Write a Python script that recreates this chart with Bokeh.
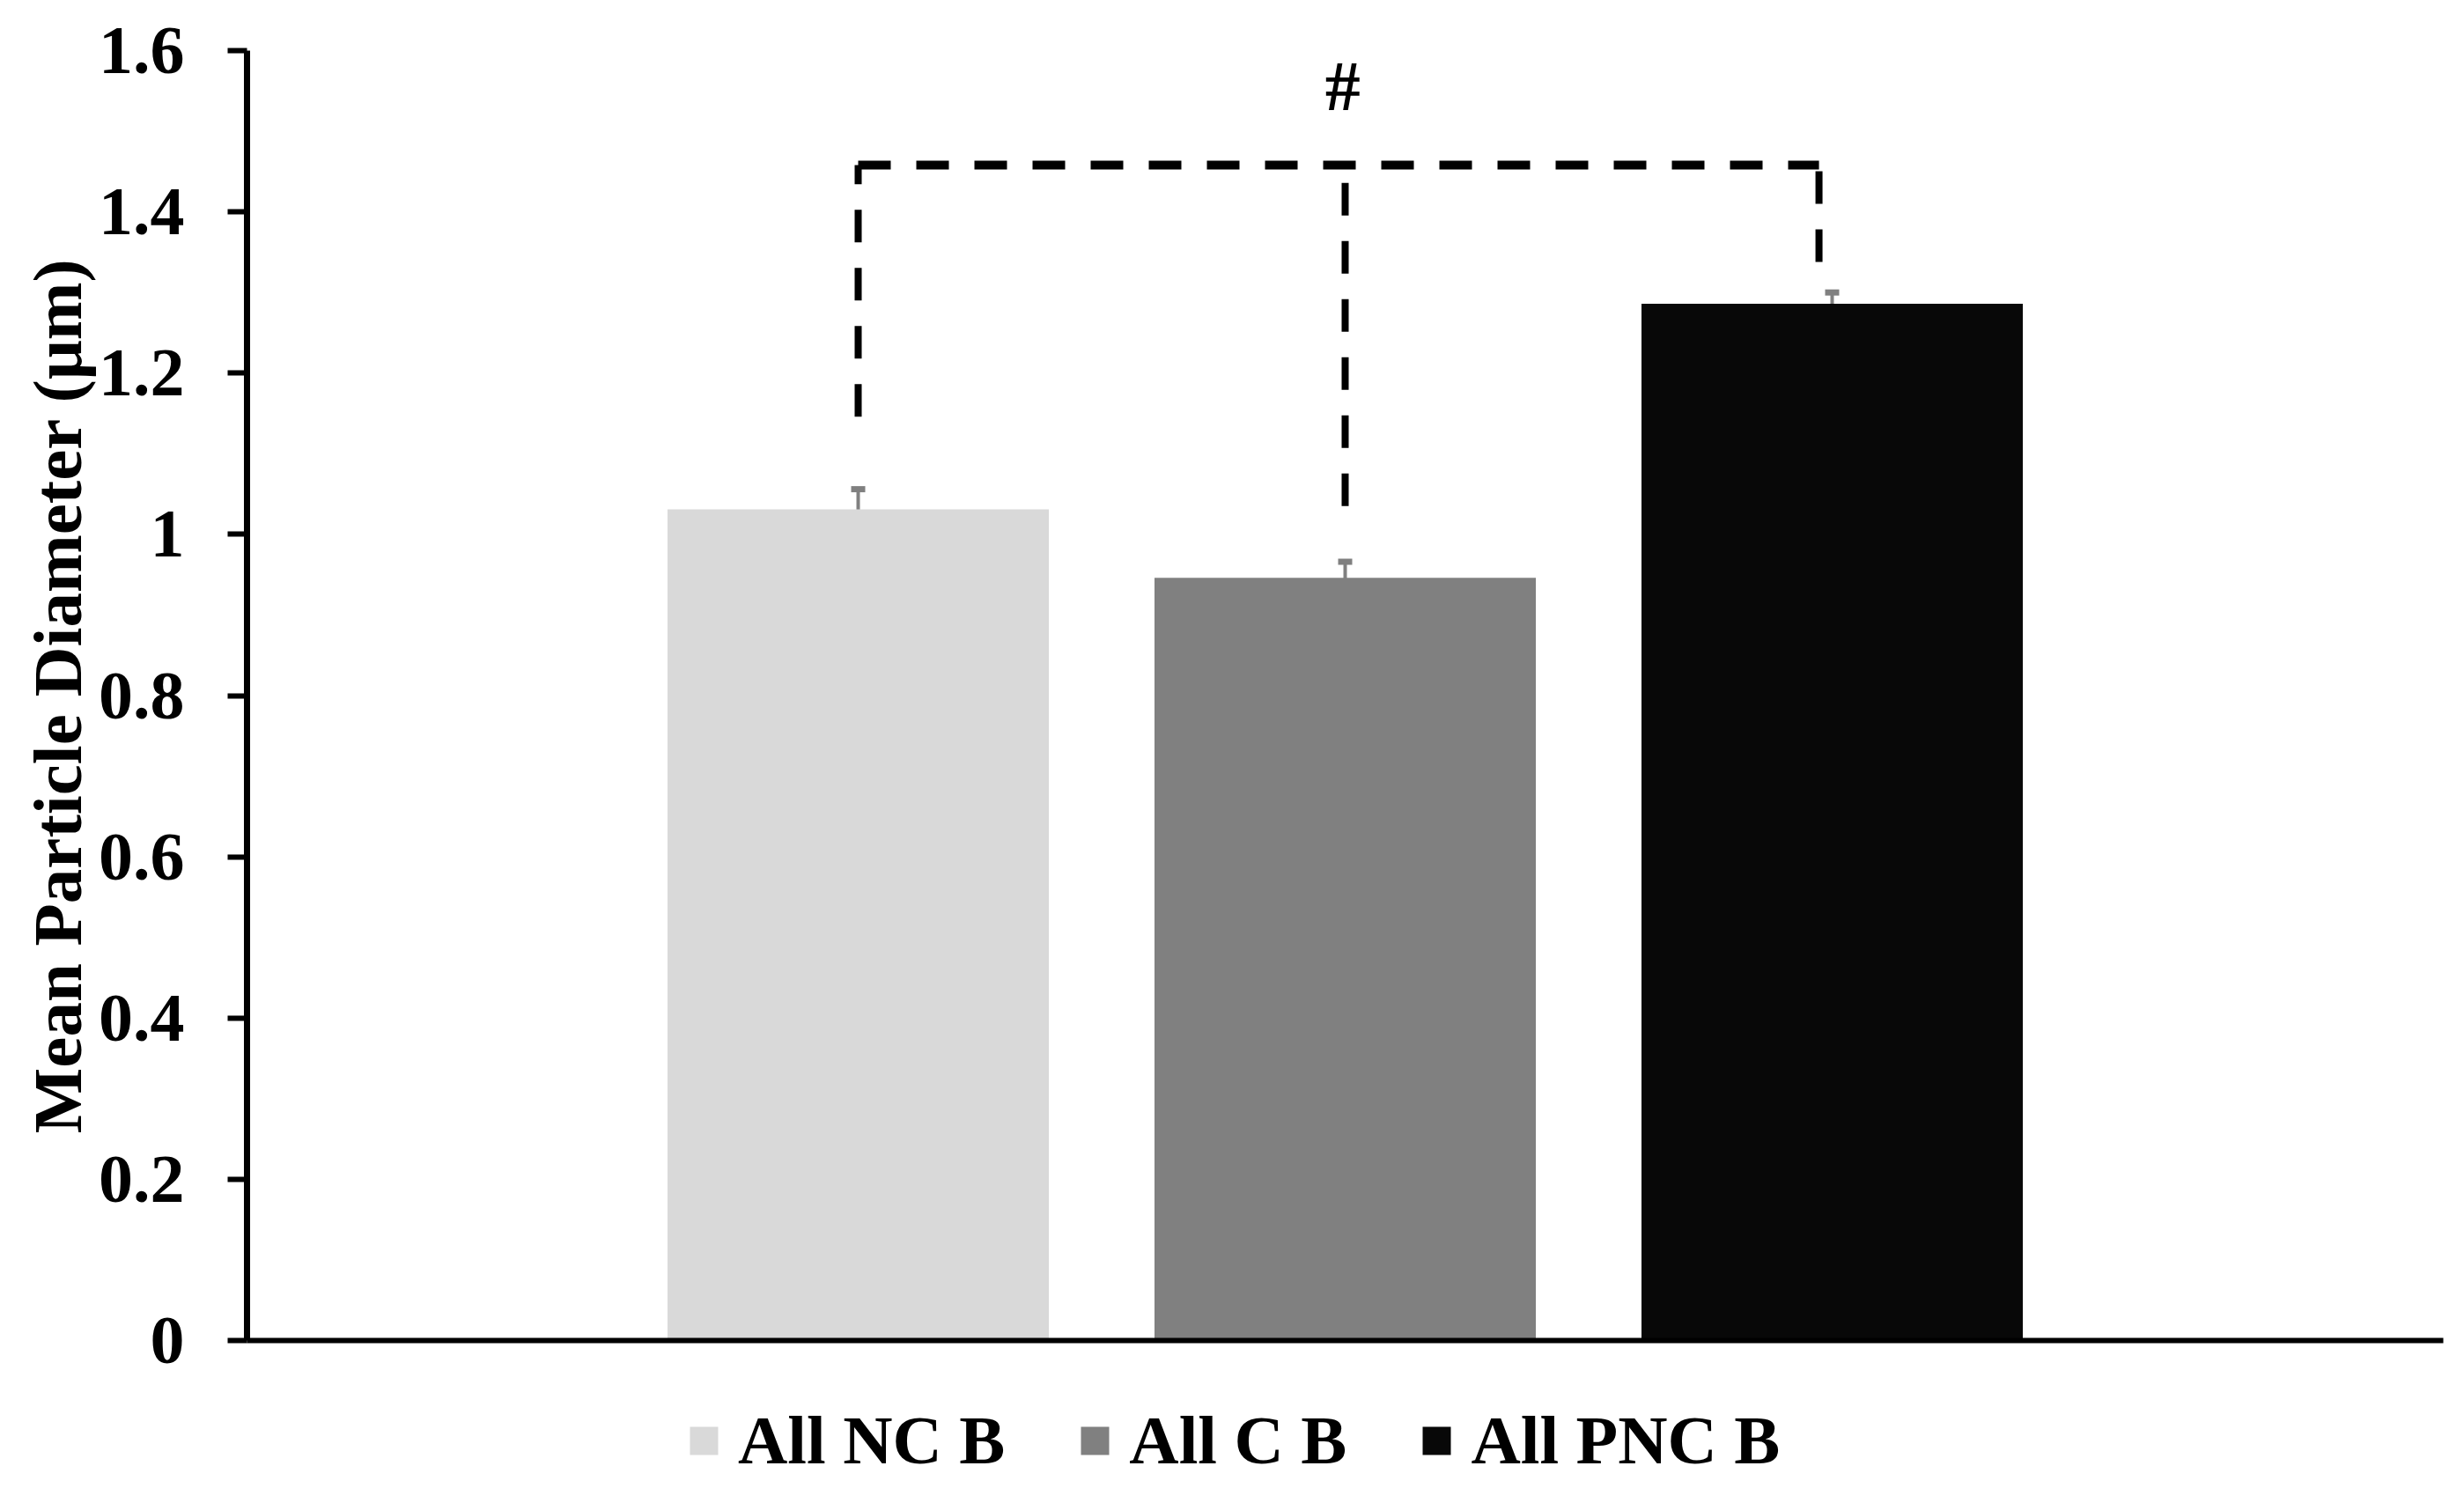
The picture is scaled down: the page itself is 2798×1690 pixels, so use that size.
from bokeh.plotting import figure
from bokeh.layouts import column
from bokeh.models import Range1d, FixedTicker, Legend, LegendItem, Whisker, TeeHead, ColumnDataSource
from bokeh.core.properties import value
from bokeh.embed import file_html
from bokeh.resources import INLINE

# ---- data ----
categories = ["All NC B", "All C B", "All PNC B"]
means = [1.031, 0.946, 1.286]
errors = [0.025, 0.020, 0.014]
colors = ["#D9D9D9", "#808080", "#080808"]
y_ticks = [0, 0.2, 0.4, 0.6, 0.8, 1.0, 1.2, 1.4, 1.6]
y_tick_labels = ["0", "0.2", "0.4", "0.6", "0.8", "1", "1.2", "1.4", "1.6"]
bracket_x = [-1, 0, 0.973]
bracket_top = 1.458
bracket_bottoms = [1.146, 1.035, 1.338]
sig_label = "#"
y_label = "Mean Particle Diameter (\u03bcm)"

FONT = "Liberation Serif"

xs = [i - 1 for i in range(len(categories))]
src = ColumnDataSource(dict(
    x=xs, top=means, color=colors, cat=categories,
    upper=[m + e for m, e in zip(means, errors)],
    lower=[m - e for m, e in zip(means, errors)],
))

p = figure(width=2798, height=1580, output_backend="svg", toolbar_location=None,
           x_range=Range1d(-2.255, 2.255), y_range=Range1d(0, 1.6),
           min_border_left=280, min_border_right=24, min_border_top=57, min_border_bottom=58)
p.outline_line_color = None
p.xgrid.grid_line_color = None
p.ygrid.grid_line_color = None
p.background_fill_color = "white"
p.border_fill_color = "white"

bars = p.vbar(x="x", top="top", width=0.783, bottom=0, fill_color="color", line_color=None, source=src)

wh = Whisker(base="x", upper="upper", lower="lower", source=src,
             line_color="#808080", line_width=4,
             upper_head=TeeHead(size=16, line_width=7, line_color="#808080"),
             lower_head=TeeHead(size=16, line_width=7, line_color="#808080"))
p.add_layout(wh)

# significance bracket
p.segment(x0=[bracket_x[0]], y0=[bracket_top], x1=[bracket_x[-1]], y1=[bracket_top],
          line_color="black", line_width=10, line_dash="37 29")
p.segment(x0=bracket_x, y0=bracket_bottoms, x1=bracket_x, y1=[bracket_top] * len(bracket_x),
          line_color="black", line_width=8, line_dash="37 29")
p.text(x=[-0.005], y=[1.556], text=[sig_label], text_font=value(FONT), text_font_style="bold",
       text_font_size="80px", text_align="center", text_baseline="middle", text_color="black")

# axes
p.xaxis.ticker = FixedTicker(ticks=[])
p.xaxis.axis_line_width = 6
p.xaxis.axis_line_color = "black"
p.xaxis.major_tick_line_color = None
p.xaxis.minor_tick_line_color = None
p.xaxis.major_tick_out = 0
p.xaxis.major_tick_in = 0
p.xaxis.major_label_standoff = 0

p.yaxis.ticker = FixedTicker(ticks=y_ticks)
p.yaxis.major_label_overrides = {t: l for t, l in zip(y_ticks, y_tick_labels)}
p.yaxis.axis_line_width = 7
p.yaxis.axis_line_color = "black"
p.yaxis.major_tick_line_width = 6
p.yaxis.major_tick_line_color = "black"
p.yaxis.major_tick_out = 22
p.yaxis.major_tick_in = 0
p.yaxis.minor_tick_line_color = None
p.yaxis.major_label_standoff = 49
p.yaxis.major_label_text_font = FONT
p.yaxis.major_label_text_font_style = "bold"
p.yaxis.major_label_text_font_size = "78px"
p.yaxis.major_label_text_color = "black"
p.yaxis.axis_label = y_label
p.yaxis.axis_label_text_font = FONT
p.yaxis.axis_label_text_font_style = "bold"
p.yaxis.axis_label_text_font_size = "79px"
p.yaxis.axis_label_text_color = "black"
p.yaxis.axis_label_standoff = 0

# ---- legend strip below the chart ----
pl = figure(width=2798, height=110, output_backend="svg", toolbar_location=None,
            x_range=Range1d(0, 1), y_range=Range1d(10, 11),
            x_axis_location=None, y_axis_location=None,
            min_border_left=0, min_border_right=0, min_border_top=0, min_border_bottom=0)
pl.outline_line_color = None
pl.xgrid.grid_line_color = None
pl.ygrid.grid_line_color = None
pl.background_fill_color = "white"
pl.border_fill_color = "white"
leg_bars = pl.vbar(x="x", top="top", width=0.783, bottom=0, fill_color="color", line_color=None, source=src)

legend = Legend(items=[LegendItem(label=c, renderers=[leg_bars], index=i) for i, c in enumerate(categories)],
                orientation="horizontal", location=(499, 9),
                glyph_width=40, glyph_height=40, label_standoff=19, spacing=82,
                padding=0, margin=0, border_line_color=None, background_fill_alpha=0,
                label_text_font=FONT, label_text_font_style="bold", label_text_font_size="78px",
                label_text_color="black")
pl.add_layout(legend, "center")

layout = column(p, pl, spacing=0)
open("out.html", "w").write(file_html(layout, INLINE))
